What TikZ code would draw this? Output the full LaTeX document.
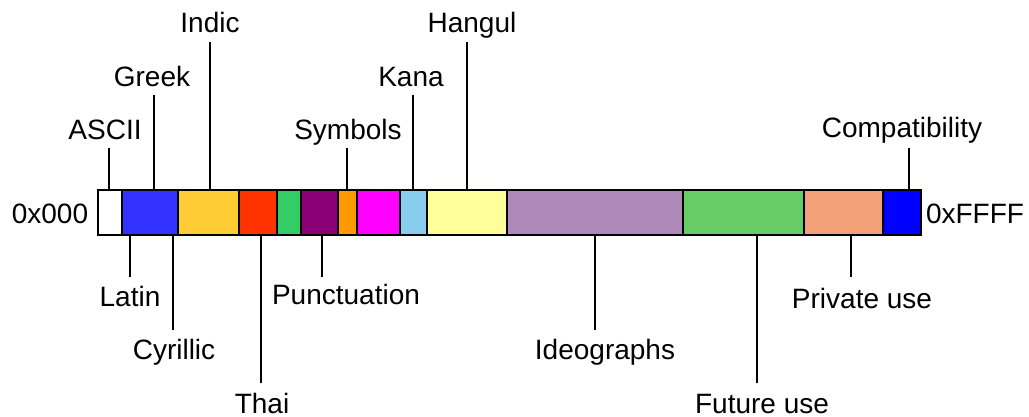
\documentclass[tikz,border=0pt]{standalone}
\usepackage{fontspec}
\setmainfont{Liberation Sans}
\definecolor{cAscii}{HTML}{FFFFFF}
\definecolor{cLatin}{HTML}{3333FF}
\definecolor{cIndic}{HTML}{FFCC33}
\definecolor{cThai}{HTML}{FF3300}
\definecolor{cGreen}{HTML}{33CC66}
\definecolor{cPurple}{HTML}{8C0077}
\definecolor{cSym}{HTML}{FF9900}
\definecolor{cMag}{HTML}{FF00FF}
\definecolor{cKana}{HTML}{88CCEE}
\definecolor{cHangul}{HTML}{FFFF99}
\definecolor{cIdeo}{HTML}{AD88B8}
\definecolor{cFuture}{HTML}{66CC66}
\definecolor{cPriv}{HTML}{F2A078}
\definecolor{cCompat}{HTML}{0000FF}
\tikzset{
  seg/.style={draw=black, line width=2pt, inner sep=0pt, outer sep=0pt,
    minimum height=45pt},
  lbl/.style={font=\fontsize{28}{32}\selectfont, inner sep=0pt, anchor=base},
  tick/.style={draw=black, line width=2pt}
}
\begin{document}
\begin{tikzpicture}[x=1pt, y=-1pt]
\useasboundingbox (0,0) rectangle (1029,417);
% the code space as a bar of coloured ranges
\foreach \a/\b/\c [count=\i] in {98/122/cAscii, 122/178/cLatin, 178/239/cIndic,
    239/277/cThai, 277/301/cGreen, 301/338/cPurple, 338/357/cSym, 357/400/cMag,
    400/427/cKana, 427/507/cHangul, 507/683/cIdeo, 683/804/cFuture,
    804/883/cPriv, 883/921/cCompat}
  \node[seg, fill=\c, minimum width={(\b-\a)*1pt}] (seg-\i) at ({(\a+\b)/2},212.5) {};

% end values
\node[lbl] (lo) at (50,223) {0x000};
\node[lbl] (hi) at (975,223) {0xFFFF};

% labels above the bar
\node[lbl] (ascii)   at (105,140) {ASCII};
\node[lbl] (greek)   at (152,87)  {Greek};
\node[lbl] (indic)   at (210,33)  {Indic};
\node[lbl] (symbols) at (348,140) {Symbols};
\node[lbl] (kana)    at (411,87)  {Kana};
\node[lbl] (hangul)  at (472,33)  {Hangul};
\node[lbl] (compat)  at (902,138) {Compatibility};

% labels below the bar
\node[lbl] (latin)    at (130,306) {Latin};
\node[lbl] (cyrillic) at (174,359) {Cyrillic};
\node[lbl] (thai)     at (262,413) {Thai};
\node[lbl] (punct)    at (346,304) {Punctuation};
\node[lbl] (ideo)     at (605,359) {Ideographs};
\node[lbl] (future)   at (762,413) {Future use};
\node[lbl] (private)  at (862,308) {Private use};

% free ends of the leader lines
\coordinate (ascii-end)   at (109,148);
\coordinate (greek-end)   at (154,95);
\coordinate (indic-end)   at (210,42);
\coordinate (symbols-end) at (347,148);
\coordinate (kana-end)    at (413,95);
\coordinate (hangul-end)  at (467,42);
\coordinate (compat-end)  at (909,148);
\coordinate (latin-end)    at (130,277);
\coordinate (cyrillic-end) at (173,330);
\coordinate (thai-end)     at (261,383);
\coordinate (punct-end)    at (322,277);
\coordinate (ideo-end)     at (595,330);
\coordinate (future-end)   at (757,383);
\coordinate (private-end)  at (851,277);

% leader lines from each label down or up to its range
\draw[tick] (ascii-end)   -- (ascii-end   |- seg-1.north);
\draw[tick] (greek-end)   -- (greek-end   |- seg-2.north);
\draw[tick] (indic-end)   -- (indic-end   |- seg-3.north);
\draw[tick] (symbols-end) -- (symbols-end |- seg-7.north);
\draw[tick] (kana-end)    -- (kana-end    |- seg-9.north);
\draw[tick] (hangul-end)  -- (hangul-end  |- seg-10.north);
\draw[tick] (compat-end)  -- (compat-end  |- seg-14.north);
\draw[tick] (latin-end)    -- (latin-end    |- seg-2.south);
\draw[tick] (cyrillic-end) -- (cyrillic-end |- seg-2.south);
\draw[tick] (thai-end)     -- (thai-end     |- seg-4.south);
\draw[tick] (punct-end)    -- (punct-end    |- seg-6.south);
\draw[tick] (ideo-end)     -- (ideo-end     |- seg-11.south);
\draw[tick] (future-end)   -- (future-end   |- seg-12.south);
\draw[tick] (private-end)  -- (private-end  |- seg-13.south);
\end{tikzpicture}
\end{document}
